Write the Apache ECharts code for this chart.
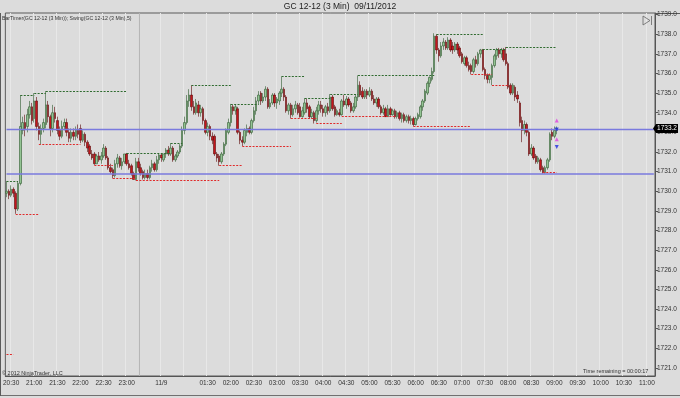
<!DOCTYPE html>
<html><head><meta charset="utf-8">
<script src="https://cdn.jsdelivr.net/npm/echarts@6/dist/echarts.min.js"></script>
<style>html,body{margin:0;padding:0;background:#dcdcdc}#c{width:680px;height:398px}</style>
</head><body><div id="c"></div>
<script>
const chartTitle = 'GC 12-12 (3 Min)  09/11/2012';
const indicatorText = 'BarTimer(GC 12-12 (3 Min)); Swing(GC 12-12 (3 Min),5)';
const copyrightText = '\u00A9 2012 NinjaTrader, LLC';
const timerText = 'Time remaining = 00:00:17';
const yTicks = [1721,1722,1723,1724,1725,1726,1727,1728,1729,1730,1731,1732,1733,1734,1735,1736,1737,1738,1739];
const lastPrice = 1733.2;
const horizontalLines = [1733.15, 1730.9];
// [open, close, low, high] per 3-minute bar
const ohlc = [
[1729.9,1730.0,1729.7,1730.5],[1730.0,1729.8,1729.6,1730.1],[1729.8,1730.1,1729.7,1730.3],[1730.1,1729.9,1729.7,1730.2],
[1729.9,1729.1,1728.85,1730.0],[1729.1,1730.4,1729.0,1730.5],[1730.4,1733.3,1730.3,1734.9],[1733.1,1733.5,1732.9,1733.8],
[1733.5,1733.2,1732.8,1733.9],[1733.3,1733.9,1733.0,1734.2],[1733.9,1734.3,1733.7,1734.6],[1734.3,1733.6,1733.4,1734.5],
[1733.7,1734.6,1733.5,1735.0],[1734.6,1733.3,1733.1,1734.8],[1733.3,1732.9,1732.6,1733.5],[1732.9,1733.2,1732.4,1733.4],
[1733.2,1733.5,1733.0,1733.7],[1733.4,1734.4,1733.2,1735.1],[1734.4,1733.8,1733.5,1734.6],[1733.8,1733.2,1732.8,1733.9],
[1733.2,1734.0,1733.0,1734.4],[1734.0,1733.7,1733.5,1734.3],[1733.6,1733.1,1732.9,1733.8],[1733.1,1732.8,1732.6,1733.3],
[1732.8,1733.3,1732.7,1733.6],[1733.3,1733.5,1733.1,1733.7],[1733.5,1733.0,1732.8,1733.7],[1733.0,1732.7,1732.5,1733.2],
[1732.7,1733.0,1732.5,1733.2],[1733.0,1732.8,1732.6,1733.2],[1732.8,1733.1,1732.6,1733.3],[1733.1,1732.9,1732.7,1733.4],
[1733.2,1732.6,1732.45,1733.4],[1732.6,1732.9,1732.5,1733.1],[1732.9,1732.5,1732.3,1733.0],[1732.5,1732.2,1732.0,1732.6],
[1732.3,1731.9,1731.8,1732.4],[1731.9,1731.7,1731.6,1732.1],[1731.9,1731.4,1731.35,1732.0],[1731.4,1731.8,1731.4,1731.9],
[1731.8,1731.6,1731.5,1732.0],[1731.6,1731.8,1731.4,1732.0],[1731.8,1732.2,1731.7,1732.4],[1732.2,1731.7,1731.6,1732.3],
[1731.7,1731.2,1731.1,1731.8],[1731.2,1731.0,1730.9,1731.4],[1731.1,1730.8,1730.65,1731.2],[1730.8,1731.4,1730.7,1731.6],
[1731.4,1731.7,1731.2,1731.9],[1731.7,1731.3,1731.2,1731.8],[1731.3,1731.5,1731.1,1731.7],[1731.5,1731.9,1731.4,1731.9],
[1731.9,1731.4,1731.3,1731.95],[1731.4,1731.2,1731.1,1731.6],[1731.3,1730.9,1730.8,1731.4],[1730.9,1730.6,1730.6,1731.0],
[1730.6,1731.5,1730.55,1731.7],[1731.5,1731.2,1731.0,1731.7],[1731.2,1730.9,1730.8,1731.4],[1731.0,1730.7,1730.6,1731.1],
[1730.7,1730.9,1730.6,1731.1],[1730.9,1730.7,1730.6,1731.1],[1730.7,1731.2,1730.6,1731.3],[1731.2,1731.4,1731.0,1731.6],
[1731.4,1731.1,1731.0,1731.5],[1731.1,1731.6,1731.0,1731.8],[1731.6,1731.85,1731.4,1731.9],[1731.85,1731.7,1731.5,1731.9],
[1731.6,1731.9,1731.5,1731.9],[1731.9,1732.1,1731.7,1732.2],[1732.1,1731.9,1731.8,1732.3],[1731.9,1732.2,1731.8,1732.45],
[1732.2,1731.6,1731.5,1732.3],[1731.6,1731.8,1731.5,1731.9],[1731.8,1732.0,1731.7,1732.1],[1732.0,1732.3,1731.9,1732.4],
[1732.3,1733.1,1732.2,1733.3],[1733.1,1733.5,1732.9,1733.8],[1733.5,1734.6,1733.4,1734.9],[1734.6,1734.9,1734.3,1735.2],
[1734.9,1734.3,1734.1,1735.4],[1734.3,1734.0,1733.9,1734.6],[1734.0,1734.5,1733.9,1734.7],[1734.4,1734.0,1733.8,1734.6],
[1734.0,1734.2,1733.8,1734.4],[1734.2,1733.6,1733.4,1734.3],[1733.6,1733.0,1732.9,1733.7],[1733.0,1733.3,1732.8,1733.5],
[1733.3,1732.8,1732.6,1733.4],[1732.8,1732.6,1732.4,1733.0],[1732.8,1731.9,1731.8,1732.9],[1731.9,1731.7,1731.5,1732.0],
[1731.8,1731.5,1731.3,1731.9],[1731.5,1731.9,1731.4,1732.0],[1731.9,1732.4,1731.8,1732.5],[1732.4,1733.1,1732.3,1733.2],
[1733.0,1733.5,1732.9,1733.7],[1733.5,1734.3,1733.3,1734.45],[1734.3,1734.1,1733.9,1734.4],[1734.1,1734.3,1733.9,1734.4],
[1734.2,1733.0,1732.9,1734.3],[1733.0,1732.6,1732.4,1733.1],[1732.6,1732.5,1732.3,1732.8],[1732.5,1733.1,1732.4,1733.2],
[1733.0,1733.2,1732.8,1733.4],[1733.2,1733.0,1732.9,1733.3],[1733.0,1733.6,1732.9,1733.7],[1733.6,1734.1,1733.5,1734.3],
[1734.1,1734.6,1733.9,1734.8],[1734.6,1734.9,1734.4,1735.1],[1735.0,1734.6,1734.4,1735.1],[1734.6,1734.8,1734.5,1735.0],
[1734.8,1735.2,1734.6,1735.35],[1735.2,1734.3,1734.2,1735.3],[1734.3,1734.5,1734.2,1734.7],[1734.5,1734.9,1734.4,1735.0],
[1734.9,1734.5,1734.3,1735.0],[1734.5,1734.7,1734.2,1734.8],[1734.6,1735.0,1734.4,1735.1],[1735.0,1735.2,1734.8,1735.85],
[1735.2,1734.8,1734.6,1735.3],[1734.8,1734.1,1734.0,1734.9],[1734.1,1734.4,1733.9,1734.5],[1734.4,1733.9,1733.7,1734.5],
[1733.9,1734.2,1733.8,1734.4],[1734.2,1734.4,1734.0,1734.6],[1734.4,1734.0,1733.9,1734.5],[1734.3,1733.8,1733.75,1734.5],
[1733.8,1734.1,1733.75,1734.3],[1734.0,1734.5,1733.9,1734.75],[1734.5,1734.2,1734.0,1734.7],[1734.3,1733.8,1733.7,1734.4],
[1733.8,1734.0,1733.7,1734.2],[1734.0,1733.6,1733.45,1734.1],[1733.6,1734.1,1733.5,1734.3],[1734.1,1734.4,1733.9,1734.6],
[1734.4,1734.2,1734.0,1734.6],[1734.2,1734.0,1733.8,1734.4],[1734.0,1734.3,1733.8,1734.4],[1734.3,1734.1,1733.9,1734.5],
[1734.1,1734.8,1734.0,1734.95],[1734.8,1734.2,1734.1,1734.9],[1734.3,1733.9,1733.8,1734.4],[1733.9,1734.1,1733.85,1734.2],
[1734.0,1733.9,1733.8,1734.2],[1733.9,1734.6,1733.85,1734.7],[1734.6,1734.4,1734.3,1734.9],[1734.4,1734.7,1734.2,1734.85],
[1734.7,1734.4,1734.3,1734.8],[1734.5,1734.1,1734.0,1734.6],[1734.1,1734.3,1734.0,1734.5],[1734.3,1734.8,1734.2,1734.9],
[1734.8,1735.4,1734.6,1735.9],[1735.4,1734.9,1734.8,1735.6],[1735.1,1734.8,1734.7,1735.3],[1734.8,1735.1,1734.7,1735.2],
[1735.1,1734.9,1734.7,1735.2],[1734.9,1735.1,1734.8,1735.3],[1735.1,1734.7,1734.6,1735.2],[1734.7,1734.5,1734.4,1734.9],
[1734.5,1734.7,1734.3,1734.8],[1734.7,1734.3,1734.2,1734.8],[1734.3,1734.0,1733.9,1734.4],[1734.0,1734.2,1733.9,1734.4],
[1734.2,1733.8,1733.85,1734.3],[1733.8,1734.2,1733.85,1734.4],[1734.2,1733.9,1733.85,1734.3],[1733.9,1734.1,1733.85,1734.2],
[1734.1,1733.8,1733.7,1734.2],[1733.8,1734.0,1733.7,1734.1],[1734.0,1733.7,1733.6,1734.1],[1733.7,1733.9,1733.5,1734.0],
[1733.9,1733.6,1733.5,1734.0],[1733.6,1733.8,1733.5,1733.9],[1733.8,1733.6,1733.45,1733.9],[1733.6,1733.7,1733.4,1733.85],
[1733.7,1733.4,1733.3,1733.8],[1733.4,1733.7,1733.35,1733.8],[1733.7,1733.9,1733.6,1734.0],[1733.8,1734.3,1733.7,1734.4],
[1734.3,1734.6,1734.1,1734.7],[1734.6,1735.1,1734.5,1735.2],[1735.0,1735.5,1734.9,1735.6],[1735.5,1735.8,1735.3,1735.85],
[1735.7,1736.1,1735.6,1736.3],[1736.1,1737.9,1736.0,1738.05],[1737.9,1737.2,1737.0,1738.0],[1737.2,1736.9,1736.6,1737.3],
[1736.9,1737.4,1736.8,1737.6],[1737.4,1737.6,1737.2,1737.8],[1737.6,1737.3,1737.2,1737.7],[1737.3,1737.7,1737.2,1737.85],
[1737.7,1737.2,1737.1,1737.8],[1737.4,1737.2,1737.0,1737.6],[1737.2,1737.5,1737.1,1737.6],[1737.5,1737.2,1737.0,1737.6],
[1737.3,1736.9,1736.8,1737.4],[1737.0,1736.6,1736.5,1737.1],[1736.5,1736.8,1736.4,1736.9],[1736.8,1736.4,1736.3,1736.9],
[1736.4,1736.2,1736.1,1736.6],[1736.4,1736.1,1735.95,1736.5],[1736.1,1736.7,1736.0,1736.8],[1736.7,1736.5,1736.3,1736.9],
[1736.5,1737.0,1736.4,1737.1],[1737.0,1737.2,1736.8,1737.25],[1737.2,1736.2,1736.1,1737.25],[1736.2,1735.9,1735.7,1736.3],
[1735.9,1735.7,1735.5,1736.0],[1735.7,1735.9,1735.5,1736.0],[1735.8,1736.4,1735.4,1736.5],[1736.4,1736.9,1736.3,1737.0],
[1736.9,1737.2,1736.7,1737.3],[1737.2,1737.0,1736.8,1737.3],[1737.0,1737.2,1736.8,1737.3],[1737.2,1736.7,1736.6,1737.3],
[1737.0,1736.5,1736.4,1737.35],[1736.5,1735.3,1735.2,1736.6],[1735.4,1735.0,1734.9,1735.5],[1735.0,1735.4,1734.9,1735.5],
[1735.3,1734.8,1734.6,1735.4],[1734.9,1734.7,1734.5,1735.1],[1734.5,1733.5,1733.3,1734.6],[1733.6,1733.1,1732.5,1733.8],
[1733.1,1733.4,1732.9,1733.6],[1733.4,1733.0,1732.8,1733.5],[1733.0,1731.9,1731.8,1733.1],[1731.9,1732.2,1731.8,1732.4],
[1732.2,1731.7,1731.6,1732.3],[1731.8,1731.5,1731.4,1731.9],[1731.5,1731.7,1731.4,1731.8],[1731.6,1731.1,1731.0,1731.7],
[1731.2,1730.95,1730.9,1731.3],[1730.95,1731.2,1730.9,1731.3],[1731.2,1731.6,1731.1,1731.7],[1731.6,1732.9,1731.5,1733.0],
[1733.0,1732.8,1732.6,1733.2],[1732.8,1733.1,1732.7,1733.3],[1733.1,1733.2,1732.9,1733.3]
];
// swing lines: [start bar, end bar, price]
const swingHighs = [[0,5,1730.5],[6,12,1734.9],[12,17,1735.0],[17,52,1735.1],[52,71,1731.95],[71,76,1732.45],
  [80,97,1735.4],[97,109,1734.45],[119,129,1735.85],[129,140,1734.75],[140,152,1734.95],[152,185,1735.9],
  [186,206,1738.0],[206,216,1737.25],[216,238,1737.35]];
const swingLows = [[0,3,1721.7],[4,14,1728.85],[14,32,1732.4],[38,46,1731.35],[46,56,1730.65],[56,92,1730.55],
  [92,102,1731.3],[102,123,1732.3],[123,134,1733.7],[134,145,1733.45],[145,168,1733.8],[176,201,1733.3],
  [201,210,1735.95],[210,217,1735.4],[232,238,1730.95]];
const markersMagenta = [[238,1733.6],[238,1732.65]];
const markersBlue = [[238,1733.15],[238,1732.25]];

// time categories: session 20:24-23:15, then 00:03-11:09
function hhmm(m){ m=((m%1440)+1440)%1440; return String(Math.floor(m/60)).padStart(2,'0')+':'+String(m%60).padStart(2,'0'); }
const cats = [];
for (let i=0;i<=57;i++) cats.push(hhmm(20*60+24+3*i));
for (let i=58;i<281;i++) cats.push(hhmm(3+3*(i-58)));

const FONT = 'Liberation Sans, Arial, sans-serif';
const isMajor = (i, v) => /:(00|30)$/.test(v);
const GREEN = '#2f6b2f', RED = '#e02a2a', BLUE = '#7a7ade';

const pair = (list) => list.map(([a,b,p]) => [{coord:[a,p]},{coord:[b,p]}]);
const lastIdx = cats.length - 1;

const chart = echarts.init(document.getElementById('c'), null, {renderer:'canvas'});
chart.setOption({
  animation:false,
  backgroundColor:'#dcdcdc',
  grid:{left:1,right:25,top:13,bottom:22,show:true,borderColor:'#5a5a5a',borderWidth:1,backgroundColor:'#dcdcdc'},
  xAxis:{type:'category',data:cats,boundaryGap:true,
    axisLine:{lineStyle:{color:'#555'}},
    axisTick:{interval:isMajor,alignWithLabel:true,length:3,lineStyle:{color:'#555'}},
    axisLabel:{interval:isMajor,fontSize:6.5,color:'#333',margin:4,fontFamily:FONT,
      formatter:v => v==='00:30' ? '11/9' : (v==='01:00' ? '' : v)},
    splitLine:{show:true,interval:isMajor,lineStyle:{color:'#e8e8e8',width:1}}},
  yAxis:{type:'value',position:'right',min:1720.59,max:1739.08,
    splitLine:{show:false},
    axisLine:{show:true,lineStyle:{color:'#555'}},
    axisTick:{show:true,length:3,lineStyle:{color:'#555'},customValues:yTicks},
    axisLabel:{customValues:yTicks,formatter:v=>Number(v).toFixed(1),fontSize:6.5,color:'#333',margin:2,fontFamily:FONT}},
  series:[
    {type:'line',data:[],silent:true,z:1,
      markLine:{silent:true,symbol:['none','none'],label:{show:false},
        data:horizontalLines.map((v,k)=>[{coord:[0,v],lineStyle:{color:BLUE,width:k===1?1.6:1.3,type:'solid',opacity:1}},{coord:[lastIdx,v]}])}},
    {type:'line',data:[],silent:true,z:3,
      markLine:{silent:true,symbol:['none','none'],label:{show:false},
        lineStyle:{color:GREEN,width:1.2,type:[2,1.4],opacity:1},data:pair(swingHighs)}},
    {type:'line',data:[],silent:true,z:3,
      markLine:{silent:true,symbol:['none','none'],label:{show:false},
        lineStyle:{color:RED,width:1.2,type:[2,1.4],opacity:1},data:pair(swingLows)}},
    {type:'candlestick',data:ohlc,barWidth:2,z:2,
      itemStyle:{color:'#93c493',color0:'#c4161c',borderColor:'#2f5a2f',borderColor0:'#5a0a0a',borderWidth:0.6}},
    {type:'scatter',data:markersMagenta,symbol:'triangle',symbolSize:4,itemStyle:{color:'#e040e0'},z:5},
    {type:'scatter',data:markersBlue,symbol:'triangle',symbolSize:4,symbolRotate:180,itemStyle:{color:'#2030e0'},z:5}
  ]
});

const py = chart.convertToPixel({yAxisIndex:0}, lastPrice);
const bx = (chart.convertToPixel({xAxisIndex:0}, 57) + chart.convertToPixel({xAxisIndex:0}, 58)) / 2;
chart.setOption({graphic:[
  {type:'line',shape:{x1:bx,y1:13,x2:bx,y2:376},style:{stroke:'#b4b4b4',lineWidth:1},z:0},
  {type:'text',left:'center',top:2,style:{text:chartTitle,font:'8.5px '+FONT,fill:'#222'}},
  {type:'text',x:2,y:16,style:{text:indicatorText,font:'5.2px '+FONT,fill:'#333'}},
  {type:'text',x:2,y:370,style:{text:copyrightText,font:'5.5px '+FONT,fill:'#333'}},
  {type:'text',x:583,y:368,style:{text:timerText,font:'5.5px '+FONT,fill:'#333'}},
  {type:'line',shape:{x1:655,y1:13.5,x2:680,y2:13.5},style:{stroke:'#5a5a5a',lineWidth:1}},
  {type:'line',shape:{x1:0,y1:395.5,x2:680,y2:395.5},style:{stroke:'#707070',lineWidth:1}},
  {type:'line',shape:{x1:0.5,y1:13,x2:0.5,y2:396},style:{stroke:'#5a5a5a',lineWidth:1}},
  {type:'polygon',shape:{points:[[643,16],[643,25],[650,20.5]]},style:{fill:'none',stroke:'#666',lineWidth:0.8}},
  {type:'line',shape:{x1:651.5,y1:16,x2:651.5,y2:25},style:{stroke:'#666',lineWidth:0.8}},
  {type:'polygon',shape:{points:[[653,py],[656,py-4.5],[678,py-4.5],[678,py+4.5],[656,py+4.5]]},style:{fill:'#000'},z:10},
  {type:'text',x:667,y:py,style:{text:lastPrice.toFixed(1),font:'6.5px '+FONT,fill:'#fff',align:'center',verticalAlign:'middle'},z:11}
]});
</script></body></html>
